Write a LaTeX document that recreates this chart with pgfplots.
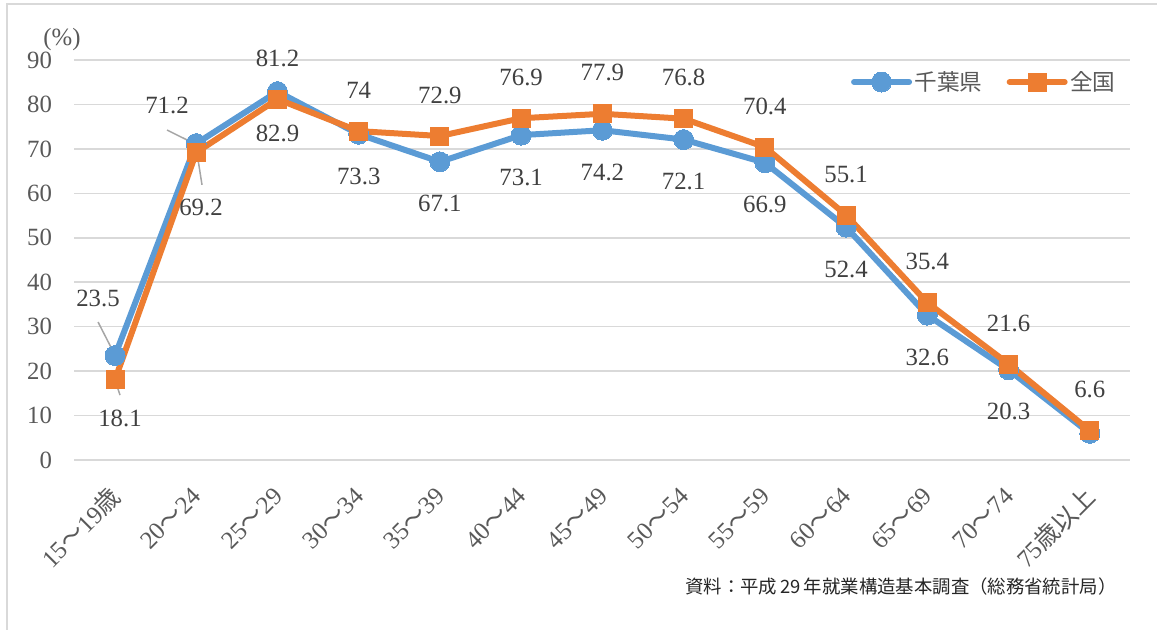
\documentclass[border=0pt]{standalone}
\usepackage{fontspec}
\setmainfont{Liberation Serif}
\newfontfamily\jp{Noto Sans CJK JP}
\usepackage{pgfplots}
\pgfplotsset{compat=1.18}
\definecolor{cblue}{HTML}{5B9BD5}
\definecolor{corange}{HTML}{ED7D31}
\definecolor{tickc}{HTML}{595959}
\definecolor{labc}{HTML}{404040}
\definecolor{gridc}{HTML}{D9D9D9}
\definecolor{leadc}{HTML}{A6A6A6}

\pgfplotstableread{
x y
0 23.5
1 71.2
2 82.9
3 73.3
4 67.1
5 73.1
6 74.2
7 72.1
8 66.9
9 52.4
10 32.6
11 20.3
12 6.0
}\chiba

\pgfplotstableread{
x y
0 18.1
1 69.2
2 81.2
3 74
4 72.9
5 76.9
6 77.9
7 76.8
8 70.4
9 55.1
10 35.4
11 21.6
12 6.6
}\zenkoku

\pgfplotstableread{
x y dx dy
0 23.5 -8.5 28.8
1 71.2 -14.6 19.3
2 82.9 0 -21
3 73.3 0 -21
4 67.1 0 -21
5 73.1 0 -21
6 74.2 0 -21
7 72.1 0 -21
8 66.9 0 -21
9 52.4 0 -21
10 32.6 0 -21
11 20.3 0 -21
}\chibalab

\pgfplotstableread{
x y dx dy
0 18.1 2.5 -19.2
1 69.2 2.4 -27.7
2 81.2 0 20.5
3 74 0 20.5
4 72.9 0 20.5
5 76.9 0 20.5
6 77.9 0 20.5
7 76.8 0 20.5
8 70.4 0 20.5
9 55.1 0 20.5
10 35.4 0 20.5
11 21.6 0 20.5
12 6.6 0 20.5
}\zenkokulab

\begin{document}
\begin{tikzpicture}[x=1pt,y=1pt]
\useasboundingbox (0,0) rectangle (578.5,314.5);
\draw[gridc, line width=0.75pt] (3.5,-5) -- (3.5,312.5) -- (590,312.5);
\begin{axis}[
  at={(37.2pt,84.5pt)}, anchor=south west,
  scale only axis, width=528pt, height=200pt,
  xmin=-0.5, xmax=12.5, ymin=0, ymax=90,
  ytick={0,10,...,90},
  xtick={0,...,12},
  xticklabels={
    {15{\jp 〜}19{\jp 歳}},
    {20{\jp 〜}24},
    {25{\jp 〜}29},
    {30{\jp 〜}34},
    {35{\jp 〜}39},
    {40{\jp 〜}44},
    {45{\jp 〜}49},
    {50{\jp 〜}54},
    {55{\jp 〜}59},
    {60{\jp 〜}64},
    {65{\jp 〜}69},
    {70{\jp 〜}74},
    {75{\jp 歳以上}}},
  axis line style={draw=none},
  major tick length=0pt,
  ymajorgrids,
  grid style={gridc, line width=0.75pt},
  /pgf/number format/assume math mode=true,
  tick label style={font=\fontsize{12.4}{13}\selectfont, text=tickc},
  yticklabel style={anchor=east, inner sep=0pt, xshift=-11pt},
  xticklabel style={yshift=-16pt, xshift=0.5pt, rotate=45, anchor=east, inner sep=0pt},
  clip=false,
  legend columns=2,
  legend style={at={(0.994,0.945)}, anchor=east, draw=none, fill=none,
    font=\jp\fontsize{11.3}{12}\selectfont, text=tickc,
    /tikz/every even column/.append style={column sep=11pt},
    nodes={inner sep=1.2pt}},
  legend image code/.code={
    \draw[#1, line cap=round] plot[mark repeat=2, mark phase=2] coordinates {(0pt,0pt) (13.75pt,0pt) (27.5pt,0pt)};},
]
\addplot[cblue, line width=3pt, line join=round, mark=*, mark size=5pt,
  mark options={fill=cblue, draw=cblue, line width=0pt}] table {\chiba};
\addlegendentry{千葉県}
\addplot[corange, line width=3pt, line join=round, mark=square*, mark size=4.5pt,
  mark options={fill=corange, draw=corange, line width=0pt}] table {\zenkoku};
\addlegendentry{全国}

\addplot[forget plot, draw=none, mark=none, point meta=explicit,
  visualization depends on={\thisrow{dx}\as\dx},
  visualization depends on={\thisrow{dy}\as\dy},
  nodes near coords={\pgfmathprintnumber{\pgfplotspointmeta}},
  every node near coord/.append style={anchor=center, xshift=\dx, yshift=\dy,
    text=labc, font=\fontsize{12.4}{13}\selectfont}]
  table[meta=y] {\chibalab};
\addplot[forget plot, draw=none, mark=none, point meta=explicit,
  visualization depends on={\thisrow{dx}\as\dx},
  visualization depends on={\thisrow{dy}\as\dy},
  nodes near coords={\pgfmathprintnumber{\pgfplotspointmeta}},
  every node near coord/.append style={anchor=center, xshift=\dx, yshift=\dy,
    text=labc, font=\fontsize{12.4}{13}\selectfont}]
  table[meta=y] {\zenkokulab};

\draw[leadc, line width=0.75pt] (axis cs:-0.209,31.05) -- (axis cs:0,23.6);
\draw[leadc, line width=0.75pt] (axis cs:0,18.0) -- (axis cs:0.0615,14.6);
\draw[leadc, line width=0.75pt] (axis cs:0.64,74.25) -- (axis cs:1.009,70.9);
\draw[leadc, line width=0.75pt] (axis cs:1.009,69.1) -- (axis cs:1.071,61.9);
\end{axis}
\node[text=tickc, font=\fontsize{12.4}{13}\selectfont, inner sep=0pt] at (31,294.5) {(\%)};
\node[anchor=east, inner sep=0pt, text=black!85, font=\jp\fontsize{9.2}{10}\selectfont] at (558.5,21) {資料：平成\,29\,年就業構造基本調査（総務省統計局）};
\end{tikzpicture}
\end{document}
